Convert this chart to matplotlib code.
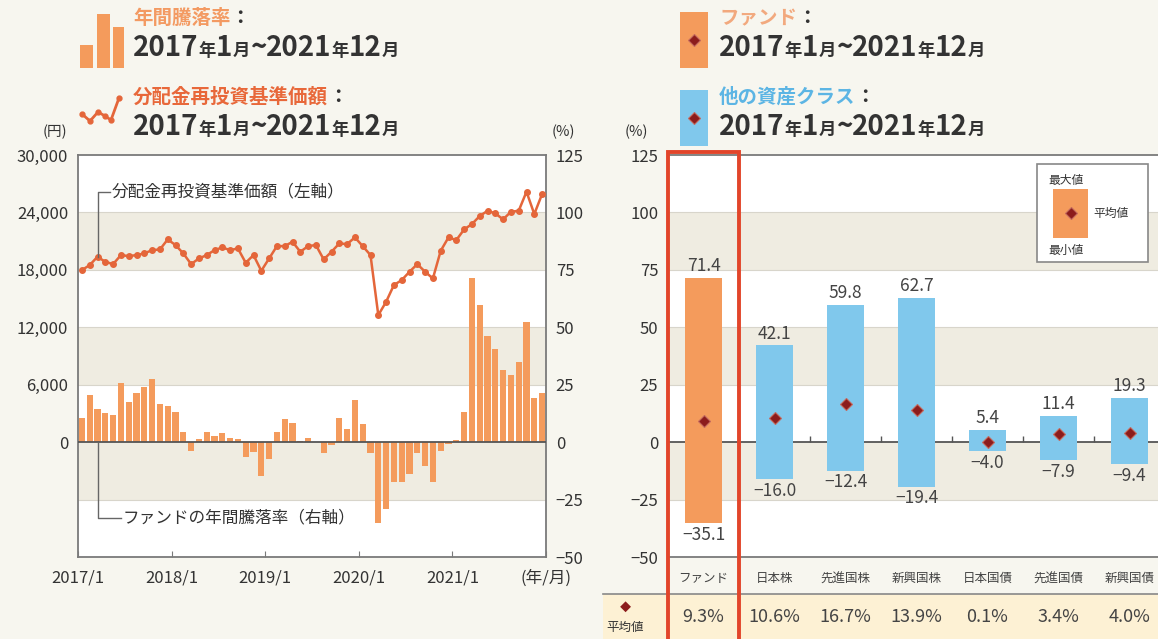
import numpy as np
import matplotlib.pyplot as plt
from matplotlib.patches import Rectangle
from matplotlib.lines import Line2D
from matplotlib.transforms import blended_transform_factory

plt.rcParams['font.family'] = ['Noto Sans CJK JP', 'DejaVu Sans']

# left chart: monthly values, 2017/1 - 2021/12
nav = [17970, 18500, 19370, 18840, 18600, 19540, 19440, 19540, 19720, 20060, 20130, 21180,
       20590, 19720, 18600, 19190, 19540, 20060, 20340, 20060, 20240, 18740, 19540, 17900,
       19190, 20480, 20480, 20930, 19890, 20480, 20590, 19090, 19890, 20760, 20690, 21390,
       20480, 19540, 13270, 14660, 16410, 16930, 17800, 18600, 17800, 17100, 19990, 21390,
       21110, 22220, 22780, 23620, 24170, 23900, 23270, 24070, 24170, 26160, 23830, 25920]
ret = [10.7, 20.7, 14.6, 12.5, 11.6, 25.8, 17.5, 21.2, 23.8, 27.5, 16.8, 15.6,
       13.2, 4.5, -3.7, 1.2, 4.3, 2.6, 4.1, 1.6, 1.4, -6.6, -4.4, -14.7,
       -7.2, 4.5, 10.1, 8.3, 0.3, 1.6, 0.2, -4.8, -1.2, 10.3, 5.9, 18.5,
       7.8, -4.6, -35.1, -29.3, -17.5, -17.5, -14.0, -4.6, -10.3, -17.5, -3.9, -0.6,
       0.9, 13.2, 71.4, 59.6, 46.1, 40.7, 31.6, 29.1, 34.9, 52.3, 19.4, 21.4]
year_labels = ['2017/1', '2018/1', '2019/1', '2020/1', '2021/1', '(年/月)']

# right chart
classes = ['ファンド', '日本株', '先進国株', '新興国株', '日本国債', '先進国債', '新興国債']
max_ret = [71.4, 42.1, 59.8, 62.7, 5.4, 11.4, 19.3]
min_ret = [-35.1, -16.0, -12.4, -19.4, -4.0, -7.9, -9.4]
mean_ret = [9.3, 10.6, 16.7, 13.9, 0.1, 3.4, 4.0]

BG = '#f7f6ef'
BAND = '#efece1'
GRID = '#d8d5cb'
ORANGE = '#f49b5c'
LINE = '#e4663a'
BLUE = '#80c8ec'
DIAMOND = '#8c1c1c'
RED = '#e2452a'
DARK = '#333333'
SPINE = '#7a7a7a'

W, H = 1158, 639
fig = plt.figure(figsize=(W / 100, H / 100), dpi=100)
fig.patch.set_facecolor(BG)


def fx(x):
    return x / W


def fy(y):
    return 1 - y / H


def minus(v, fmt='{:g}'):
    return fmt.format(v).replace('-', '\u2212')


def rich(x, y, parts):
    r = fig.canvas.get_renderer()
    for s, size, color in parts:
        t = fig.text(fx(x), fy(y), s, fontsize=size, color=color,
                     fontweight='bold', va='baseline', ha='left')
        x += t.get_window_extent(r).width


def period(big=20, small=12.5):
    return [('2017', big, DARK), ('年', small, DARK), ('1', big, DARK), ('月', small, DARK),
            ('~', big, DARK), ('2021', big, DARK), ('年', small, DARK), ('12', big, DARK),
            ('月', small, DARK)]


def bands(a, zero_z=3):
    for lo, hi in [(75, 100), (25, 50), (-25, 0)]:
        a.axhspan(lo, hi, color=BAND, lw=0, zorder=0)
    for v in [100, 75, 50, 25, -25]:
        a.axhline(v, color=GRID, lw=0.8, zorder=0.5)
    a.axhline(0, color='#555555', lw=1.3, zorder=zero_z)
    for s in a.spines.values():
        s.set_color(SPINE)
        s.set_linewidth(1.3)


# ---------------- left chart ----------------
ax = fig.add_axes([fx(78), fy(557), (546 - 78) / W, (557 - 155) / H])
ax.set_facecolor('white')
months = np.arange(len(ret))
ax.set_xlim(0, len(ret))
ax.set_ylim(-50, 125)
bands(ax)
ax.bar(months + 0.5, ret, width=0.8, color=ORANGE, zorder=2)
pct_ticks = [-50, -25, 0, 25, 50, 75, 100, 125]
ax.set_xticks(np.arange(0, len(ret) + 1, 12))
ax.set_xticklabels(year_labels)
ax.tick_params(axis='x', direction='in', length=4, color=SPINE, pad=9,
               labelsize=12, labelcolor=DARK)

ax2 = ax.twinx()
ax2.set_ylim(-12000, 30000)
yen_ticks = [0, 6000, 12000, 18000, 24000, 30000]
for s in ax2.spines.values():
    s.set_visible(False)
ax2.plot(months + 0.5, nav, color=LINE, lw=1.8, marker='o', ms=4, zorder=4)

# percent axis on the right, yen axis on the left
ax.yaxis.tick_right()
ax.yaxis.set_label_position('right')
ax.set_yticks(pct_ticks)
ax.set_yticklabels([minus(v) for v in pct_ticks])
ax.tick_params(axis='y', length=0, pad=7, labelsize=12, labelcolor=DARK)
ax2.yaxis.tick_left()
ax2.yaxis.set_label_position('left')
ax2.set_yticks(yen_ticks)
ax2.set_yticklabels([f'{v:,}' for v in yen_ticks])
ax2.tick_params(axis='y', length=0, pad=7, labelsize=12, labelcolor=DARK)

# leader labels
fig.add_artist(Line2D([fx(98), fx(98), fx(110)], [fy(257), fy(192), fy(192)], color='#666666', lw=1))
fig.text(fx(112), fy(192), '分配金再投資基準価額（左軸）', fontsize=12, color=DARK, va='center')
fig.add_artist(Line2D([fx(98), fx(98), fx(121)], [fy(443), fy(518), fy(518)], color='#666666', lw=1))
fig.text(fx(123), fy(518), 'ファンドの年間騰落率（右軸）', fontsize=12, color=DARK, va='center')

fig.text(fx(55), fy(132), '(円)', fontsize=10.5, color=DARK, ha='center', va='center')
fig.text(fx(563), fy(132), '(%)', fontsize=10.5, color=DARK, ha='center', va='center')

# ---------------- right chart ----------------
axr = fig.add_axes([fx(668), fy(557), (1165 - 668) / W, (557 - 155) / H])
axr.set_facecolor('white')
x = np.arange(len(classes))
axr.set_xlim(-0.5, len(classes) - 0.5)
axr.set_ylim(-50, 125)
bands(axr, zero_z=1)
axr.spines['right'].set_visible(False)
colors = [ORANGE] + [BLUE] * (len(classes) - 1)
axr.bar(x, np.subtract(max_ret, min_ret), bottom=min_ret, width=0.53, color=colors, zorder=2)
axr.plot(x, mean_ret, ls='none', marker='D', ms=6.5, color=DIAMOND, mec='#c46a5e', mew=0.8, zorder=5)
axr.vlines(x[:-1] + 0.5, 0, 2.5, color='#555555', lw=1, zorder=3)
for i in x:
    axr.annotate(f'{max_ret[i]:.1f}', (i, max_ret[i]), xytext=(0, 2), textcoords='offset points',
                 ha='center', va='bottom', fontsize=12.5, color='#444444')
    axr.annotate(minus(min_ret[i], '{:.1f}'), (i, min_ret[i]), xytext=(0, -2), textcoords='offset points',
                 ha='center', va='top', fontsize=12.5, color='#444444')
axr.set_yticks(pct_ticks)
axr.set_yticklabels([minus(v) for v in pct_ticks])
axr.tick_params(axis='y', length=0, pad=7, labelsize=12, labelcolor=DARK)
axr.set_xticks(x)
axr.set_xticklabels(classes)
axr.tick_params(axis='x', length=0, pad=11, labelsize=9, labelcolor='#444444')
fig.text(fx(636), fy(132), '(%)', fontsize=10.5, color=DARK, ha='center', va='center')

# mean row
fig.add_artist(Rectangle((fx(603), 0), 1 - fx(603), fy(594), color='#fdf1d4', lw=0, zorder=1))
fig.add_artist(Line2D([fx(603), 1], [fy(594), fy(594)], color='#888888', lw=1.2, zorder=2))
bt = blended_transform_factory(axr.transData, axr.transAxes)
for i in x:
    fig.text(i, (557 - 617) / (557 - 155), f'{mean_ret[i]:.1f}%', transform=bt, ha='center',
             va='center', fontsize=13, color='#444444', zorder=4)
fig.text(fx(625), fy(607), '◆', fontsize=8, color=DIAMOND, ha='center', va='center')
fig.text(fx(625), fy(627), '平均値', fontsize=9, color=DARK, ha='center', va='center')

# red frame around fund
fig.add_artist(Rectangle((-0.5, (557 - 645) / (557 - 155)), 1, (645 - 152) / (557 - 155), transform=bt,
                         fill=False, ec=RED, lw=2.8, zorder=6))

# legend box
fig.add_artist(Rectangle((fx(1037), fy(262)), (1148 - 1037) / W, (262 - 164) / H,
                         fc='white', ec='#888888', lw=1.2, zorder=4))
fig.add_artist(Rectangle((fx(1053), fy(238)), 35 / W, 49 / H, fc=ORANGE, lw=0, zorder=5))
fig.add_artist(Line2D([fx(1070.5)], [fy(213)], marker='D', ms=6, color=DIAMOND, mec='#c46a5e',
                      mew=0.8, zorder=6))
fig.text(fx(1048), fy(180), '最大値', fontsize=8.5, color=DARK, va='center', zorder=6)
fig.text(fx(1093), fy(213), '平均値', fontsize=8.5, color=DARK, va='center', zorder=6)
fig.text(fx(1048), fy(250), '最小値', fontsize=8.5, color=DARK, va='center', zorder=6)

# ---------------- headers ----------------
for bx0, bx1, by in [(79.5, 92.5, 45), (97, 110, 14), (113, 124, 27)]:
    fig.add_artist(Rectangle((fx(bx0), fy(68)), (bx1 - bx0) / W, (68 - by) / H, fc=ORANGE, lw=0))
icon_x = [82, 90, 98, 105, 111, 119]
icon_y = [114, 121, 112, 116, 120, 98]
fig.add_artist(Line2D([fx(v) for v in icon_x], [fy(v) for v in icon_y], color=LINE, lw=2,
                      marker='o', ms=3.5))
rich(133, 24, [('年間騰落率', 14, '#f39a62'), ('：', 14, DARK)])
rich(133, 56, period())
rich(133, 103, [('分配金再投資基準価額', 14, '#e8683a'), ('：', 14, DARK)])
rich(133, 135, period())

fig.add_artist(Rectangle((fx(680), fy(68)), 28 / W, 56 / H, fc=ORANGE, lw=0))
fig.add_artist(Rectangle((fx(680), fy(146)), 28 / W, 56 / H, fc=BLUE, lw=0))
for cy in [40, 118]:
    fig.add_artist(Line2D([fx(694)], [fy(cy)], marker='D', ms=6, color=DIAMOND, mec='#c46a5e', mew=0.8))
rich(719, 24, [('ファンド', 14, '#f2a97e'), ('：', 14, DARK)])
rich(719, 56, period())
rich(719, 103, [('他の資産クラス', 14, '#5cb5e4'), ('：', 14, DARK)])
rich(719, 135, period())

fig.savefig('out.png', dpi=100, facecolor=BG)
